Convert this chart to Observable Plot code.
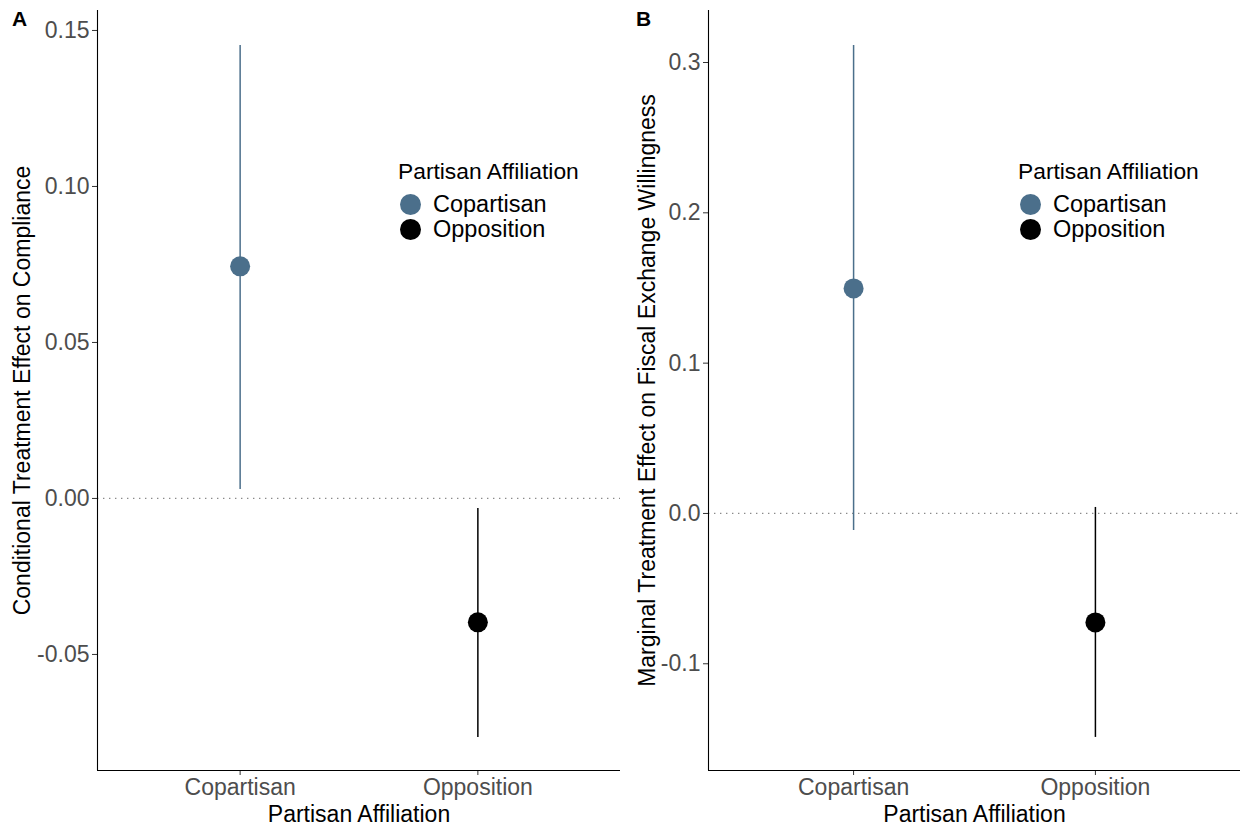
<!DOCTYPE html>
<html><head><meta charset="utf-8">
<script src="https://cdn.jsdelivr.net/npm/d3@7"></script>
<script src="https://cdn.jsdelivr.net/npm/@observablehq/plot@0.6"></script>
<style>
body{margin:0;background:#fff;font-family:"Liberation Sans",Arial,sans-serif;}
#wrap{position:relative;width:1241px;height:827px;overflow:hidden;}
.panel{position:absolute;top:0;}
.tag{position:absolute;font-weight:bold;font-size:21px;color:#000;line-height:1;}
.legend{position:absolute;font-size:23.5px;color:#000;}
.legend .title{position:absolute;left:0;top:0;white-space:nowrap;font-size:22.8px;line-height:1;}
.legend .item{position:absolute;left:0;white-space:nowrap;display:flex;align-items:center;line-height:1;}
.legend .item svg{margin-right:11px;}
</style>
</head><body>
<div id="wrap"></div>
<script>
const categories = ["Copartisan", "Opposition"];
const colors = ["#4B6F8B", "#000000"];

const estA = [0.0744, -0.0397];
const lowA = [0.0029, -0.0766];
const highA = [0.1452, -0.0032];
const ticksA = [-0.05, 0.00, 0.05, 0.10, 0.15];

const estB = [0.1497, -0.0725];
const lowB = [-0.0113, -0.149];
const highB = [0.3113, 0.004];
const ticksB = [-0.1, 0.0, 0.1, 0.2, 0.3];

const legendTitle = "Partisan Affiliation";
const xTitle = "Partisan Affiliation";
const yTitleA = "Conditional Treatment Effect on Compliance";
const yTitleB = "Marginal Treatment Effect on Fiscal Exchange Willingness";

function rows(est, lo, hi) {
  return categories.map((c, i) => ({cat: c, pos: i + 1, est: est[i], lo: lo[i], hi: hi[i]}));
}

function panel({data, ticks, fmt, domain, yTitle, width, marginLeft, titleDx}) {
  return Plot.plot({
    width, height: 827,
    marginLeft, marginRight: 1, marginTop: 10, marginBottom: 57,
    style: {fontFamily: "'Liberation Sans', Arial, sans-serif", fontSize: "23px", background: "transparent"},
    x: {type: "linear", domain: [0.4, 2.6], axis: null},
    y: {domain, axis: null},
    color: {domain: categories, range: colors},
    marks: [
      Plot.ruleY([0], {stroke: "#8a8a8a", strokeDasharray: "1.4,4.6", strokeWidth: 1.3}),
      Plot.ruleX(data, {x: "pos", y1: "lo", y2: "hi", stroke: "cat", strokeWidth: 1.5}),
      Plot.dot(data, {x: "pos", y: "est", fill: "cat", r: 10, stroke: null}),
      Plot.axisY({ticks, tickFormat: fmt, tickSize: 5, tickPadding: 3, stroke: "#333", fill: "#4d4d4d", label: null, fontSize: 23}),
      Plot.axisX({ticks: categories.map((c, i) => i + 1), tickFormat: i => categories[i - 1], tickSize: 5, tickPadding: 3, stroke: "#333", fill: "#4d4d4d", label: null, fontSize: 23}),
      Plot.ruleX([0.4], {stroke: "#000", strokeWidth: 1.1}),
      Plot.ruleY([domain[0]], {stroke: "#000", strokeWidth: 1.1}),
      Plot.text([yTitle], {frameAnchor: "left", textAnchor: "middle", rotate: -90, dx: titleDx, fill: "#000", fontSize: 23}),
      Plot.text([xTitle], {frameAnchor: "bottom", textAnchor: "middle", lineAnchor: "bottom", dy: 51, fill: "#000", fontSize: 23})
    ]
  });
}

const fmtA = d => (d < 0 ? "-" : "") + d3.format(".2f")(Math.abs(d));
const fmtB = d => (d < 0 ? "-" : "") + d3.format(".1f")(Math.abs(d));

const wrap = document.getElementById("wrap");

function addPanel(svg, left) {
  const div = document.createElement("div");
  div.className = "panel";
  div.style.left = left + "px";
  div.appendChild(svg);
  wrap.appendChild(div);
}

addPanel(panel({data: rows(estA, lowA, highA), ticks: ticksA, fmt: fmtA, domain: [-0.0872, 0.1564], yTitle: yTitleA, width: 621, marginLeft: 97, titleDx: -75}), 0);
addPanel(panel({data: rows(estB, lowB, highB), ticks: ticksB, fmt: fmtB, domain: [-0.171, 0.3346], yTitle: yTitleB, width: 621, marginLeft: 88, titleDx: -61}), 620);

function addTag(t, left, top) {
  const d = document.createElement("div");
  d.className = "tag"; d.textContent = t;
  d.style.left = left + "px"; d.style.top = top + "px";
  wrap.appendChild(d);
}
addTag("A", 12, 8);
addTag("B", 636, 8);

function addLegend(left) {
  const lg = document.createElement("div");
  lg.className = "legend";
  lg.style.left = left + "px"; lg.style.top = "160px";
  const t = document.createElement("div");
  t.className = "title"; t.textContent = legendTitle;
  lg.appendChild(t);
  categories.forEach((c, i) => {
    const it = document.createElement("div");
    it.className = "item";
    it.style.top = (33 + i * 25) + "px";
    it.innerHTML = `<svg width="23" height="23" style="margin-left:1px"><circle cx="11.5" cy="11.5" r="10.5" fill="${colors[i]}"/></svg><span>${c}</span>`;
    lg.appendChild(it);
  });
  wrap.appendChild(lg);
}
addLegend(398);
addLegend(1018);
</script>
</body></html>
